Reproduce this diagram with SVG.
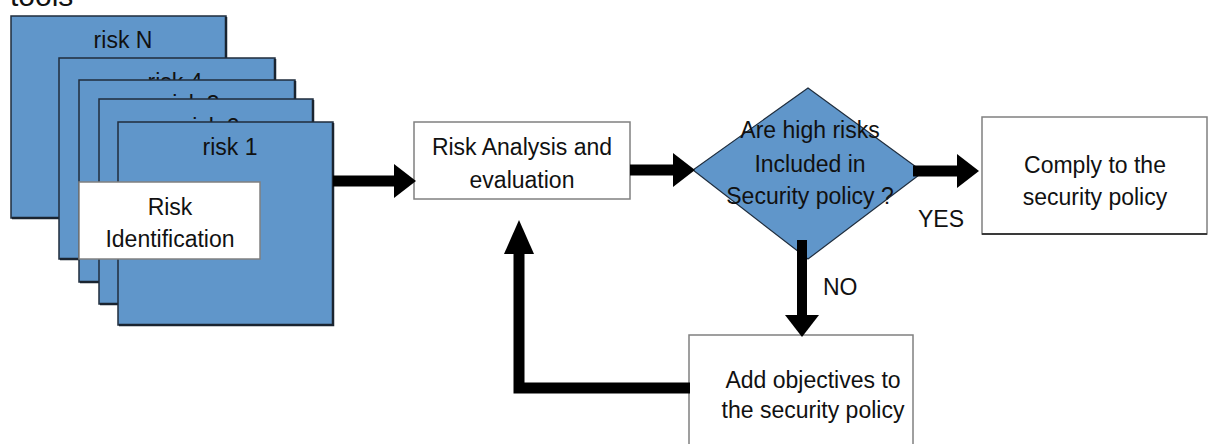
<svg xmlns="http://www.w3.org/2000/svg" width="1212" height="444" viewBox="0 0 1212 444">
  <style>
    text { font-family: "Liberation Sans", Arial, sans-serif; font-size: 23px; fill: #111; }
    .c { text-anchor: middle; }
    .page { fill: #6096ca; stroke: #1f2d3d; stroke-width: 1.5; }
    .shade { fill: none; stroke: #1a2430; stroke-width: 2.5; }
    .box { fill: #ffffff; stroke: #808080; stroke-width: 1.5; }
    .boxshade { fill: none; stroke: #3a3a3a; stroke-width: 2; }
    .flow { fill: none; stroke: #000; stroke-width: 11; stroke-linejoin: miter; }
  </style>
  <defs>
    <marker id="head" markerUnits="userSpaceOnUse" viewBox="0 0 22 34" markerWidth="22" markerHeight="34" refX="1" refY="17" orient="auto">
      <path d="M0,0 L22,17 L0,34 z" fill="#000"/>
    </marker>
    <marker id="headLong" markerUnits="userSpaceOnUse" viewBox="0 0 34 30" markerWidth="34" markerHeight="30" refX="1" refY="15" orient="auto">
      <path d="M0,0 L34,15 L0,30 z" fill="#000"/>
    </marker>
  </defs>

  <!-- heading cut at the top edge -->
  <text x="10" y="6" style="font-size:30px">tools</text>

  <!-- stack of risk sheets -->
  <g id="risk-N">
    <rect class="page" x="11" y="16" width="215" height="202"/>
    <path class="shade" d="M226,17 V218 H12"/>
    <text class="c" x="123" y="48">risk N</text>
  </g>
  <g id="risk-4">
    <rect class="page" x="59" y="58" width="216" height="201"/>
    <path class="shade" d="M275,59 V259 H60"/>
    <text class="c" x="175" y="90">risk 4</text>
  </g>
  <g id="risk-3">
    <rect class="page" x="79" y="80" width="216" height="202"/>
    <path class="shade" d="M295,81 V282 H80"/>
    <text class="c" x="192" y="112">risk 3</text>
  </g>
  <g id="risk-2">
    <rect class="page" x="99" y="99" width="214" height="205"/>
    <path class="shade" d="M313,100 V304 H100"/>
    <text class="c" x="212" y="135">risk 2</text>
  </g>
  <g id="risk-1">
    <rect class="page" x="118" y="122" width="215" height="203"/>
    <path class="shade" d="M333,123 V325 H119"/>
    <text class="c" x="230" y="155">risk 1</text>
  </g>
  <g id="risk-identification">
    <rect class="box" x="79" y="182" width="181" height="77"/>
    <text class="c" x="170" y="215">Risk</text>
    <text class="c" x="170" y="247">Identification</text>
  </g>

  <!-- process steps -->
  <g id="risk-analysis">
    <rect class="box" x="414" y="122" width="216" height="77"/>
    <text class="c" x="522" y="155">Risk Analysis and</text>
    <text class="c" x="522" y="188">evaluation</text>
  </g>
  <g id="decision">
    <polygon points="808,88 923,172 808,259 693,170" fill="#6096ca" stroke="#1f2d3d" stroke-width="1.2"/>
    <text class="c" x="810" y="138">Are high risks</text>
    <text class="c" x="810" y="172">Included in</text>
    <text class="c" x="810" y="204">Security policy ?</text>
  </g>
  <g id="comply">
    <rect class="box" x="982" y="117" width="225" height="117"/>
    <path class="boxshade" d="M982,234 H1207"/>
    <text class="c" x="1095" y="173">Comply to the</text>
    <text class="c" x="1095" y="205">security policy</text>
  </g>
  <g id="add-objectives">
    <rect class="box" x="689" y="335" width="224" height="125"/>
    <text class="c" x="813" y="388">Add objectives to</text>
    <text class="c" x="813" y="418">the security policy</text>
  </g>

  <!-- connectors -->
  <g id="connectors">
    <line class="flow" x1="333" y1="181" x2="395" y2="181" marker-end="url(#head)"/>
    <line class="flow" x1="630" y1="170" x2="674" y2="170" marker-end="url(#head)"/>
    <line class="flow" x1="913" y1="171" x2="958" y2="171" marker-end="url(#head)"/>
    <line class="flow" x1="802" y1="240" x2="802" y2="316" marker-end="url(#head)" style="stroke-width:10"/>
    <path class="flow" d="M690,388 H519 V253" marker-end="url(#headLong)"/>
    <text x="823" y="295">NO</text>
    <text x="918" y="227">YES</text>
  </g>
</svg>
